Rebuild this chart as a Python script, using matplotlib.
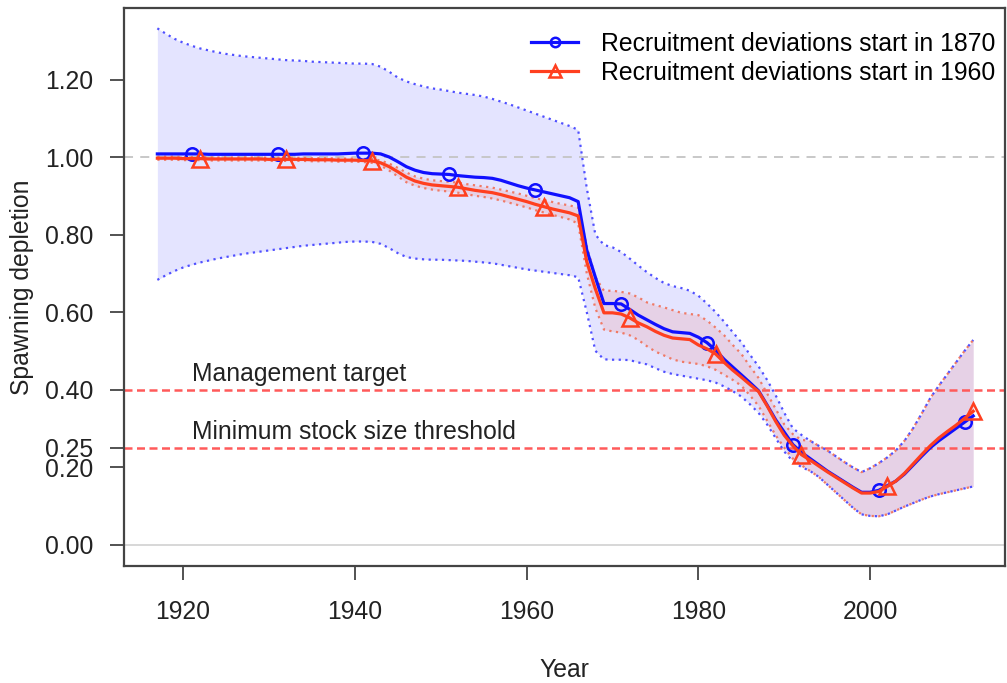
import numpy as np
import matplotlib
matplotlib.use("Agg")
import matplotlib.pyplot as plt

plt.rcParams['font.family'] = ['Liberation Sans', 'DejaVu Sans']

## Years covered by both model runs
years = np.arange(1917, 2013)

## Spawning depletion, recruitment deviations start in 1870 (blue)
dep_1870 = [
    1.008, 1.008, 1.008, 1.008, 1.008, 1.008, 1.007, 1.007, 1.007, 1.007,   # 1917-1926
    1.007, 1.007, 1.007, 1.007, 1.007, 1.007, 1.007, 1.008, 1.008, 1.008,   # 1927-1936
    1.008, 1.008, 1.009, 1.010, 1.010, 1.010, 1.008, 1.000, 0.988, 0.975,   # 1937-1946
    0.966, 0.960, 0.957, 0.956, 0.955, 0.952, 0.950, 0.948, 0.947, 0.945,   # 1947-1956
    0.940, 0.933, 0.926, 0.920, 0.915, 0.910, 0.905, 0.900, 0.895, 0.885,   # 1957-1966
    0.760, 0.690, 0.622, 0.622, 0.621, 0.607, 0.592, 0.580, 0.568, 0.557,   # 1967-1976
    0.549, 0.547, 0.545, 0.535, 0.521, 0.502, 0.478, 0.458, 0.438, 0.418,   # 1977-1986
    0.397, 0.360, 0.322, 0.290, 0.258, 0.238, 0.222, 0.206, 0.190, 0.176,   # 1987-1996
    0.162, 0.148, 0.135, 0.135, 0.140, 0.152, 0.164, 0.182, 0.205, 0.228,   # 1997-2006
    0.250, 0.268, 0.284, 0.300, 0.316, 0.332]                               # 2007-2012
upper_1870 = [
    1.332, 1.318, 1.305, 1.295, 1.287, 1.280, 1.275, 1.270, 1.266, 1.263,
    1.260, 1.258, 1.256, 1.254, 1.252, 1.250, 1.249, 1.248, 1.246, 1.245,
    1.244, 1.243, 1.242, 1.241, 1.241, 1.240, 1.233, 1.220, 1.205, 1.195,
    1.188, 1.182, 1.177, 1.174, 1.170, 1.166, 1.163, 1.160, 1.156, 1.150,
    1.143, 1.136, 1.128, 1.120, 1.112, 1.104, 1.096, 1.088, 1.080, 1.070,
    0.920, 0.800, 0.773, 0.767, 0.755, 0.738, 0.720, 0.703, 0.688, 0.675,
    0.667, 0.662, 0.655, 0.642, 0.622, 0.600, 0.575, 0.548, 0.522, 0.490,
    0.460, 0.425, 0.385, 0.340, 0.300, 0.283, 0.268, 0.255, 0.243, 0.228,
    0.213, 0.199, 0.187, 0.197, 0.210, 0.225, 0.243, 0.268, 0.300, 0.338,
    0.378, 0.410, 0.440, 0.470, 0.500, 0.528]
lower_1870 = [
    0.683, 0.695, 0.706, 0.715, 0.722, 0.728, 0.733, 0.738, 0.742, 0.746,
    0.750, 0.753, 0.756, 0.759, 0.762, 0.765, 0.768, 0.771, 0.773, 0.775,
    0.777, 0.779, 0.781, 0.782, 0.782, 0.781, 0.776, 0.765, 0.752, 0.742,
    0.738, 0.736, 0.735, 0.735, 0.734, 0.733, 0.732, 0.730, 0.728, 0.726,
    0.722, 0.718, 0.714, 0.710, 0.707, 0.704, 0.701, 0.698, 0.695, 0.690,
    0.600, 0.500, 0.478, 0.477, 0.477, 0.476, 0.470, 0.465, 0.455, 0.446,
    0.440, 0.436, 0.432, 0.428, 0.424, 0.418, 0.408, 0.396, 0.382, 0.362,
    0.340, 0.310, 0.275, 0.240, 0.215, 0.200, 0.190, 0.175, 0.155, 0.135,
    0.115, 0.095, 0.078, 0.074, 0.073, 0.078, 0.088, 0.098, 0.107, 0.116,
    0.124, 0.130, 0.135, 0.140, 0.145, 0.150]

## Spawning depletion, recruitment deviations start in 1960 (red)
dep_1960 = [
    0.997, 0.997, 0.997, 0.996, 0.996, 0.996, 0.995, 0.995, 0.995, 0.995,
    0.995, 0.995, 0.995, 0.994, 0.994, 0.994, 0.994, 0.994, 0.993, 0.993,
    0.993, 0.992, 0.992, 0.992, 0.991, 0.990, 0.985, 0.975, 0.962, 0.948,
    0.938, 0.932, 0.928, 0.926, 0.924, 0.922, 0.918, 0.914, 0.911, 0.908,
    0.903, 0.897, 0.891, 0.885, 0.878, 0.872, 0.866, 0.861, 0.856, 0.848,
    0.730, 0.660, 0.598, 0.598, 0.595, 0.585, 0.572, 0.562, 0.550, 0.540,
    0.533, 0.531, 0.529, 0.515, 0.505, 0.492, 0.470, 0.450, 0.432, 0.413,
    0.395, 0.358, 0.318, 0.282, 0.255, 0.232, 0.218, 0.203, 0.188, 0.174,
    0.160, 0.146, 0.133, 0.133, 0.137, 0.150, 0.164, 0.184, 0.208, 0.232,
    0.255, 0.275, 0.292, 0.308, 0.326, 0.344]
upper_1960 = [
    1.001, 1.001, 1.001, 1.000, 1.000, 1.000, 0.999, 0.999, 0.999, 0.999,
    0.999, 0.999, 0.999, 0.998, 0.998, 0.998, 0.998, 0.998, 0.997, 0.997,
    0.997, 0.996, 0.996, 0.996, 0.995, 0.995, 0.991, 0.983, 0.972, 0.960,
    0.950, 0.944, 0.940, 0.938, 0.936, 0.934, 0.930, 0.927, 0.924, 0.921,
    0.916, 0.911, 0.906, 0.900, 0.894, 0.889, 0.884, 0.879, 0.875, 0.870,
    0.770, 0.690, 0.655, 0.655, 0.652, 0.648, 0.638, 0.625, 0.618, 0.612,
    0.605, 0.598, 0.595, 0.592, 0.578, 0.560, 0.540, 0.515, 0.492, 0.460,
    0.430, 0.390, 0.350, 0.310, 0.285, 0.270, 0.268, 0.255, 0.243, 0.228,
    0.213, 0.199, 0.187, 0.197, 0.210, 0.225, 0.243, 0.268, 0.300, 0.338,
    0.378, 0.410, 0.440, 0.470, 0.500, 0.528]
lower_1960 = [
    0.993, 0.993, 0.993, 0.992, 0.992, 0.992, 0.991, 0.991, 0.991, 0.991,
    0.991, 0.991, 0.991, 0.990, 0.990, 0.990, 0.990, 0.990, 0.989, 0.989,
    0.989, 0.988, 0.988, 0.988, 0.987, 0.985, 0.978, 0.965, 0.950, 0.935,
    0.926, 0.920, 0.916, 0.913, 0.911, 0.908, 0.904, 0.900, 0.897, 0.893,
    0.888, 0.882, 0.876, 0.870, 0.863, 0.857, 0.851, 0.845, 0.839, 0.828,
    0.700, 0.610, 0.555, 0.550, 0.547, 0.540, 0.528, 0.512, 0.498, 0.488,
    0.478, 0.472, 0.469, 0.466, 0.460, 0.451, 0.438, 0.425, 0.410, 0.385,
    0.358, 0.320, 0.282, 0.250, 0.222, 0.205, 0.190, 0.175, 0.155, 0.135,
    0.115, 0.095, 0.078, 0.074, 0.073, 0.078, 0.088, 0.098, 0.107, 0.116,
    0.124, 0.130, 0.135, 0.140, 0.145, 0.150]

ref_levels = [0.40, 0.25]
ref_labels = ['Management target', 'Minimum stock size threshold']
ytick_vals = [0.0, 0.2, 0.25, 0.4, 0.6, 0.8, 1.0, 1.2]
xtick_vals = [1920, 1940, 1960, 1980, 2000]
series_labels = ['Recruitment deviations start in 1870', 'Recruitment deviations start in 1960']

BLUE = '#1010FF'
RED = '#FF3F1F'
FS = 17.8

fig = plt.figure(figsize=(10.07, 6.83), dpi=100)
ax = fig.add_axes([0.123, 0.172, 0.875, 0.816])

# uncertainty bands
ax.fill_between(years, lower_1870, upper_1870, color=BLUE, alpha=0.11, lw=0)
ax.fill_between(years, lower_1960, upper_1960, color=RED, alpha=0.11, lw=0)

# reference lines
ax.axhline(1.0, color='#c4c4c4', lw=1.3, ls=(0, (5, 4)), zorder=1)
ax.axhline(0.0, color='#d4d4d4', lw=1.3, zorder=1)
for lev, lab in zip(ref_levels, ref_labels):
    ax.axhline(lev, color='#ff5a5a', lw=1.8, ls=(0, (3.2, 1.8)), zorder=2)
    ax.text(1921, lev + 0.01, lab, fontsize=FS, color='#222222', va='bottom', ha='left')

# interval bounds
ax.plot(years, upper_1960, color='#f07a66', lw=1.6, ls=(0, (1, 2)))
ax.plot(years, lower_1960, color='#f07a66', lw=1.6, ls=(0, (1, 2)))
ax.plot(years, upper_1870, color='#5050ff', lw=1.6, ls=(0, (1, 2)))
ax.plot(years, lower_1870, color='#5050ff', lw=1.6, ls=(0, (1, 2)))

# main estimates
ax.plot(years, dep_1870, color=BLUE, lw=2.3, marker='o', markevery=(4, 10), ms=9,
        mfc='none', mec=BLUE, mew=1.8, label=series_labels[0], zorder=5)
ax.plot(years, dep_1960, color=RED, lw=2.3, marker='^', markevery=(5, 10), ms=11,
        mfc='none', mec=RED, mew=1.8, label=series_labels[1], zorder=5)

ax.set_xlim(1913.1, 2015.7)
ax.set_ylim(-0.054, 1.384)
ax.set_xticks(xtick_vals)
ax.set_yticks(ytick_vals)
ax.set_yticklabels(['%.2f' % v for v in ytick_vals])
ax.tick_params(axis='both', labelsize=FS, length=10, width=1.3, color='#444444', labelcolor='#222222')
ax.tick_params(axis='x', pad=15)
ax.tick_params(axis='y', pad=12)
for s in ax.spines.values():
    s.set_color('#444444')
    s.set_linewidth(1.6)

ax.set_xlabel('Year', fontsize=FS, color='#222222', labelpad=24)
ax.set_ylabel('Spawning depletion', fontsize=FS, color='#222222', labelpad=8)

ax.legend(loc='upper right', bbox_to_anchor=(1.0, 0.975), frameon=False, fontsize=FS,
          handlelength=1.9, labelspacing=0.2, markerscale=0.75, borderaxespad=0.0,
          handletextpad=0.9)

fig.savefig('out.png', dpi=100)
